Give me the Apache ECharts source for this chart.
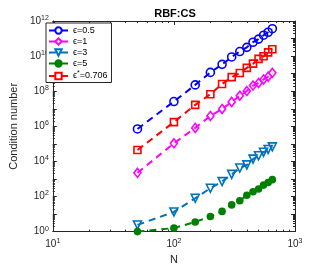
<!DOCTYPE html>
<html><head><meta charset="utf-8">
<script src="https://cdn.jsdelivr.net/npm/echarts@6/dist/echarts.min.js"></script>
<style>html,body{margin:0;padding:0;background:#fff}#c{width:327px;height:270px}</style>
</head><body><div id="c"></div>
<script>
// N values
var N = [50,100,150,200,250,300,350,400,450,500,550,600,650];
// log10 of condition numbers
var logEps05  = [5.85,7.41,8.36,9.07,9.53,9.95,10.26,10.50,10.79,10.97,11.19,11.36,11.56];
var logEps1   = [3.35,5.03,5.91,6.59,6.99,7.39,7.74,8.01,8.32,8.47,8.67,8.83,9.05];
var logEps3   = [0.38,1.12,1.90,2.47,2.85,3.26,3.62,3.80,4.13,4.32,4.52,4.68,4.83];
var logEps5   = [0.00,0.20,0.55,0.86,1.15,1.52,1.76,2.07,2.27,2.43,2.65,2.80,2.96];
var logEpsOpt = [4.65,6.24,7.22,7.83,8.41,8.80,9.04,9.33,9.57,9.84,9.99,10.21,10.39];
var seriesNames = ['ϵ=0.5','ϵ=1','ϵ=3','ϵ=5','ϵ*=0.706'];
var colors = ['#0000ff','#ff00ff','#0072bd','#008000','#ff0000'];

function pts(lg){ return N.map(function(n,i){ return [n, Math.pow(10, lg[i])]; }); }
function supLabel(v){
  var e = Math.round(Math.log10(v));
  return '{b|10}{s|' + e + '}';
}
var rich = {b:{fontSize:10,color:'#262626',fontFamily:'Liberation Sans'}, s:{fontSize:7,color:'#262626',verticalAlign:'top',padding:[0,0,6,0],fontFamily:'Liberation Sans'}};

function mk(i, data, symbol, size, rotate, filled){
  return {
    name: seriesNames[i], type:'line', data: data,
    symbol: symbol, symbolSize: size, symbolRotate: rotate||0,
    lineStyle:{color:colors[i], width:2, type:[7,5]},
    itemStyle:{color: filled ? colors[i] : 'rgba(255,255,255,0)', borderColor:colors[i], borderWidth:1.6},
    z: 3, animation:false
  };
}
var chart = echarts.init(document.getElementById('c'), null, {renderer:'canvas'});
var axisCommon = {
  axisLine:{show:true, lineStyle:{color:'#262626', width:1}},
  axisTick:{show:true, inside:true, length:4, lineStyle:{color:'#262626'}},
  minorTick:{show:true, splitNumber:9, length:2, lineStyle:{color:'#262626'}},
  splitLine:{show:false}
};
chart.setOption({
  animation:false,
  title:{text:'RBF:CS', left:170, top:3, textAlign:'center', textStyle:{fontSize:11, fontWeight:'bold', color:'#000', fontFamily:'Liberation Sans'}},
  grid:{left:45, right:32, top:21, bottom:31},
  legend:{
    orient:'vertical', left:46, top:23, padding:[3,4,2,2], itemGap:2,
    itemWidth:19, itemHeight:8,
    borderColor:'#262626', borderWidth:1, backgroundColor:'#fff',
    data: seriesNames,
    formatter:function(n){ if(n==='ϵ*=0.706') return '{t|ϵ}{s|*}{t|=0.706}'; return '{t|'+n+'}'; },
    textStyle:{fontSize:9, color:'#000', fontFamily:'Liberation Sans',
      rich:{t:{fontSize:9,fontFamily:'Liberation Sans'}, s:{fontSize:7, verticalAlign:'top', padding:[0,0,5,0]}}}
  },
  xAxis:[
    Object.assign({type:'log', logBase:10, min:10, max:1000, interval:1,
      name:'N', nameLocation:'middle', nameGap:19, nameTextStyle:{fontSize:11,color:'#262626',fontFamily:'Liberation Sans'},
      axisLabel:{formatter:supLabel, rich:rich, margin:6}}, axisCommon),
    Object.assign({type:'log', logBase:10, min:10, max:1000, interval:1, position:'top',
      axisLabel:{show:false}}, axisCommon)
  ],
  yAxis:[
    Object.assign({type:'log', logBase:10, min:1, max:1e12, interval:1,
      name:'Condition number', nameLocation:'middle', nameGap:27, nameTextStyle:{fontSize:11,color:'#262626',fontFamily:'Liberation Sans'},
      axisLabel:{formatter:function(v){var e=Math.round(Math.log10(v)); return e%2===0 ? supLabel(v) : '';}, rich:rich, margin:4}}, axisCommon),
    Object.assign({type:'log', logBase:10, min:1, max:1e12, interval:1, position:'right',
      axisLabel:{show:false}}, axisCommon)
  ],
  series:[
    mk(0, pts(logEps05), 'circle', 8, 0, false),
    mk(1, pts(logEps1), 'diamond', [7,9], 0, false),
    mk(2, pts(logEps3), 'triangle', 8, 180, false),
    mk(3, pts(logEps5), 'circle', 6, 0, true),
    mk(4, pts(logEpsOpt), 'rect', 7, 0, false)
  ]
});
</script></body></html>
